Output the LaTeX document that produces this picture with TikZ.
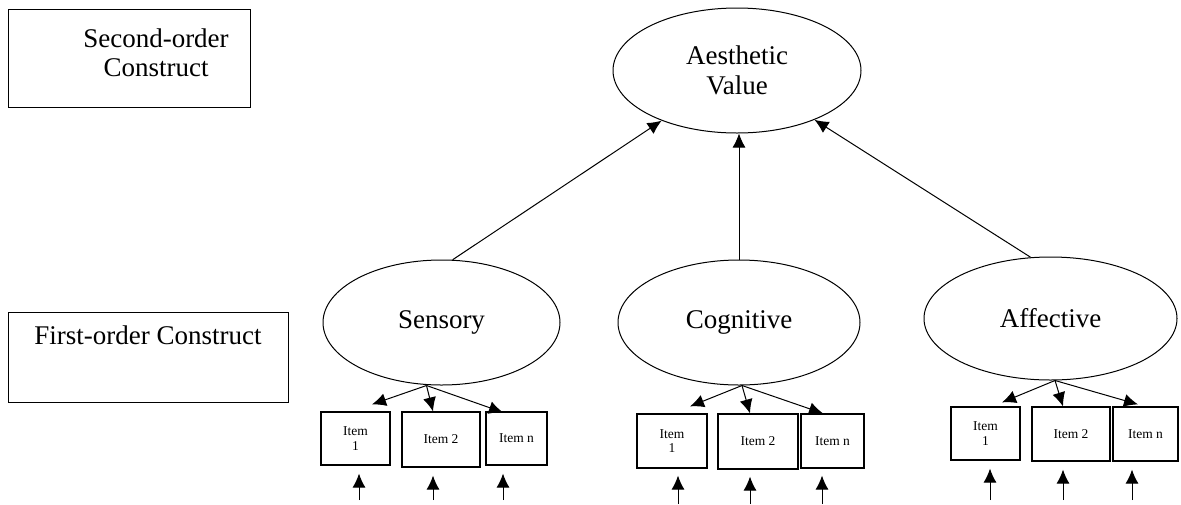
\documentclass[tikz,border=0pt]{standalone}
\usepackage{fontspec}
\setmainfont{Liberation Serif}
\usetikzlibrary{shapes.geometric,arrows.meta}
\begin{document}
\begin{tikzpicture}[x=1pt,y=-1pt,
 lbl/.style={font=\fontsize{27}{29}\selectfont,align=center,inner sep=0pt},
 ell/.style={draw,ellipse,inner sep=0pt,line width=1pt,font=\fontsize{27}{30}\selectfont,align=center},
 item/.style={draw,rectangle,inner sep=0pt,line width=1.2pt,font=\fontsize{13.5}{14.5}\selectfont,align=center},
 frame/.style={draw,rectangle,inner sep=0pt,line width=1pt},
 arr/.style={line width=1pt,-{Latex[length=14pt,width=13pt]}}]
\useasboundingbox (0,0) rectangle (1181,504);

% legend boxes
\node[frame,minimum width=242,minimum height=98] (so) at (129,58) {};
\node[lbl] (sotext) at (156,53) {Second-order\\Construct};
\node[frame,minimum width=280,minimum height=90] (fo) at (148,357) {};
\node[lbl] (fotext) at (148,335) {First-order Construct};

% constructs
\node[ell,minimum width=248,minimum height=125] (aes) at (737,70.5) {Aesthetic\\Value};
\node[ell,minimum width=237,minimum height=125] (sens) at (441.5,322.5) {Sensory};
\node[ell,minimum width=242,minimum height=125] (cog) at (739,322.5) {Cognitive};
\node[ell,minimum width=253,minimum height=123] (aff) at (1050.5,318.5) {Affective};

\draw[arr] (sens.80) -- (aes);
\draw[arr] (cog.north) -- (cog.north |- aes.south);
\draw[arr] (aff.108) -- (aes);

% items
\node[item,minimum width=69,minimum height=53] (s1) at (355.5,438.5) {Item\\1};
\node[item,minimum width=78,minimum height=55] (s2) at (441,439.5) {Item 2};
\node[item,minimum width=61,minimum height=53] (s3) at (516.5,438.5) {Item n};
\node[item,minimum width=70,minimum height=54] (c1) at (672,441) {Item\\1};
\node[item,minimum width=80,minimum height=55] (c2) at (758,441.5) {Item 2};
\node[item,minimum width=63,minimum height=54] (c3) at (832.5,441) {Item n};
\node[item,minimum width=69,minimum height=53] (a1) at (985.5,433.5) {Item\\1};
\node[item,minimum width=78,minimum height=54] (a2) at (1071,434) {Item 2};
\node[item,minimum width=65,minimum height=54] (a3) at (1145.5,434) {Item n};

% loadings
\coordinate (s0) at ([xshift=-15pt]sens.south);
\coordinate (c0) at ([xshift=3pt]cog.south);
\coordinate (a0) at ([xshift=4.5pt]aff.south);
\draw[arr] (s0) -- ([xshift=16.5pt,yshift=7pt]s1.north);
\draw[arr] (s0) -- ([xshift=-8pt]s2.north);
\draw[arr] (s0) -- ([xshift=-13.5pt,yshift=-1pt]s3.north);
\draw[arr] (c0) -- ([xshift=18pt,yshift=7pt]c1.north);
\draw[arr] (c0) -- ([xshift=-8pt]c2.north);
\draw[arr] (c0) -- ([xshift=-9.5pt]c3.north);
\draw[arr] (a0) -- ([xshift=16.5pt,yshift=4pt]a1.north);
\draw[arr] (a0) -- ([xshift=-8pt]a2.north);
\draw[arr] (a0) -- ([xshift=-7.5pt,yshift=2pt]a3.north);

% error terms
\coordinate (es1) at (359,500);
\coordinate (es2) at (433,500);
\coordinate (es3) at (503,500);
\coordinate (ec1) at (678,504);
\coordinate (ec2) at (750,504);
\coordinate (ec3) at (822,504);
\coordinate (ea1) at (990,500);
\coordinate (ea2) at (1063,500);
\coordinate (ea3) at (1132,500);
\draw[arr,shorten >=8pt] (es1) -- (es1 |- s1.south);
\draw[arr,shorten >=8pt] (es2) -- (es2 |- s2.south);
\draw[arr,shorten >=8pt] (es3) -- (es3 |- s3.south);
\draw[arr,shorten >=7pt] (ec1) -- (ec1 |- c1.south);
\draw[arr,shorten >=7pt] (ec2) -- (ec2 |- c2.south);
\draw[arr,shorten >=7pt] (ec3) -- (ec3 |- c3.south);
\draw[arr,shorten >=8pt] (ea1) -- (ea1 |- a1.south);
\draw[arr,shorten >=8pt] (ea2) -- (ea2 |- a2.south);
\draw[arr,shorten >=8pt] (ea3) -- (ea3 |- a3.south);
\end{tikzpicture}
\end{document}
